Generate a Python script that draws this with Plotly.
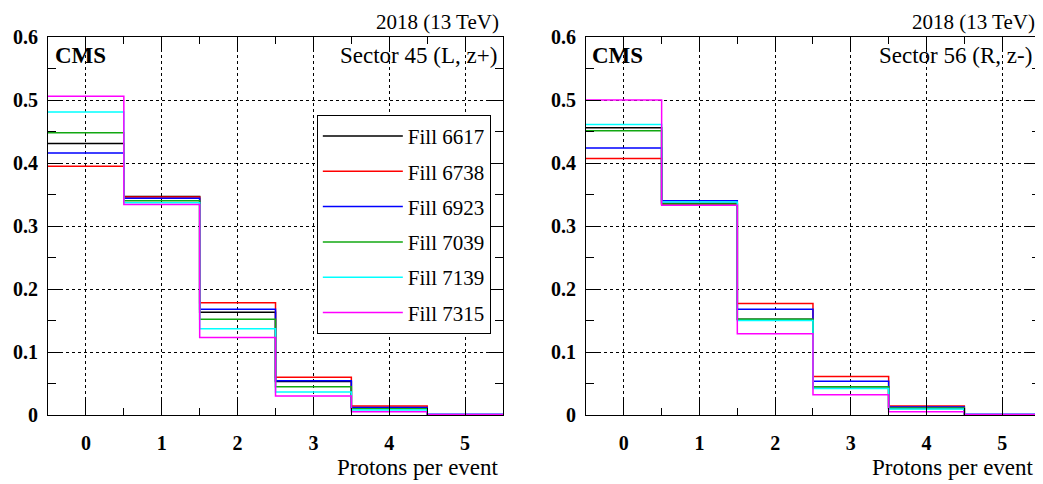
import plotly.graph_objects as go

# ---------------- data ----------------
protons = [0, 1, 2, 3, 4, 5]
fills = ["Fill 6617", "Fill 6738", "Fill 6923", "Fill 7039", "Fill 7139", "Fill 7315"]
colors = ["#000000", "#ff0000", "#0000ff", "#12a812", "#00ffff", "#ff00ff"]

# Sector 45 (L, z+)
s45_6617 = [0.431, 0.347, 0.163, 0.053, 0.012, 0.002]
s45_6738 = [0.395, 0.346, 0.178, 0.060, 0.0143, 0.002]
s45_6923 = [0.416, 0.344, 0.168, 0.0545, 0.012, 0.002]
s45_7039 = [0.448, 0.340, 0.152, 0.045, 0.010, 0.002]
s45_7139 = [0.481, 0.337, 0.137, 0.0365, 0.008, 0.002]
s45_7315 = [0.506, 0.334, 0.123, 0.030, 0.0053, 0.001]

# Sector 56 (R, z-)
s56_6617 = [0.456, 0.336, 0.152, 0.045, 0.0105, 0.002]
s56_6738 = [0.407, 0.334, 0.177, 0.061, 0.0143, 0.002]
s56_6923 = [0.424, 0.340, 0.168, 0.0535, 0.0127, 0.002]
s56_7039 = [0.451, 0.335, 0.152, 0.045, 0.011, 0.002]
s56_7139 = [0.461, 0.338, 0.150, 0.042, 0.0095, 0.002]
s56_7315 = [0.500, 0.333, 0.129, 0.032, 0.0053, 0.001]

sector45 = [s45_6617, s45_6738, s45_6923, s45_7039, s45_7139, s45_7315]
sector56 = [s56_6617, s56_6738, s56_6923, s56_7039, s56_7139, s56_7315]

y_ticks = [0, 0.1, 0.2, 0.3, 0.4, 0.5, 0.6]

FONT = "Liberation Serif"

# bin edges for step histogram
edges = [p - 0.5 for p in protons] + [protons[-1] + 0.5]

fig = go.Figure()

for panel, (data, xa, ya) in enumerate([(sector45, "x", "y"), (sector56, "x2", "y2")]):
    for name, col, vals in zip(fills, colors, data):
        fig.add_trace(go.Scatter(
            x=edges, y=list(vals) + [vals[-1]],
            mode="lines", line=dict(color=col, width=1.5, shape="hv"),
            name=name, legendgroup=name, showlegend=(panel == 0),
            xaxis=xa, yaxis=ya, hoverinfo="x+y+name",
        ))

tickfont = dict(family=FONT, size=20, color="black", weight="bold")

def xaxis_cfg(domain, anchor):
    return dict(
        domain=domain, anchor=anchor, range=[-0.5, 5.5],
        tickmode="array", tickvals=protons, ticktext=[str(p) for p in protons],
        ticks="inside", ticklen=15, tickwidth=1, tickcolor="black",
        minor=dict(tick0=0.5, dtick=1, ticks="inside", ticklen=7, tickcolor="black", showgrid=False),
        showline=True, linecolor="black", linewidth=1, mirror="allticks",
        showgrid=True, gridcolor="black", griddash="dot", gridwidth=1,
        zeroline=False, tickfont=tickfont, ticklabelstandoff=10,
        automargin=False, fixedrange=True,
    )

def yaxis_cfg(anchor):
    return dict(
        domain=[0, 1], anchor=anchor, range=[0, 0.6],
        tickmode="array", tickvals=y_ticks, ticktext=[("%g" % v) for v in y_ticks],
        ticks="inside", ticklen=15, tickwidth=1, tickcolor="black",
        minor=dict(dtick=0.05, ticks="inside", ticklen=8, tickcolor="black", showgrid=False),
        showline=True, linecolor="black", linewidth=1, mirror="allticks",
        showgrid=True, gridcolor="black", griddash="dot", gridwidth=1,
        zeroline=False, tickfont=tickfont, ticklabelstandoff=5,
        automargin=False, fixedrange=True,
    )

# the page body adds an 8px margin at top/left, so the figure is 8px smaller
fig.update_layout(
    width=1035, height=476,
    margin=dict(l=40, r=3, t=29, b=69),
    paper_bgcolor="white", plot_bgcolor="white",
    font=dict(family=FONT, color="black"),
    xaxis=xaxis_cfg([0, 0.4587], "y"),
    yaxis=yaxis_cfg("x"),
    xaxis2=xaxis_cfg([0.5423, 1.0], "y2"),
    yaxis2=yaxis_cfg("x2"),
    legend=dict(
        x=0.271, y=0.794, xanchor="left", yanchor="top",
        bgcolor="white", bordercolor="black", borderwidth=1,
        font=dict(family=FONT, size=21, color="black"),
        tracegroupgap=5, itemwidth=80, entrywidth=176,
    ),
)

annots = [
    # left panel
    dict(text="2018 (13 TeV)", x=0.4567, y=1.076, xanchor="right", yanchor="top", size=21),
    dict(text="<b>CMS</b>", x=0.005, y=0.950, xanchor="left", yanchor="middle", size=23),
    dict(text="Sector 45 (L, z+)", x=0.4546, y=0.950, xanchor="right", yanchor="middle", size=23),
    dict(text="Protons per event", x=0.4566, y=-0.140, xanchor="right", yanchor="middle", size=23),
    # right panel
    dict(text="2018 (13 TeV)", x=0.997, y=1.076, xanchor="right", yanchor="top", size=21),
    dict(text="<b>CMS</b>", x=0.5464, y=0.950, xanchor="left", yanchor="middle", size=23),
    dict(text="Sector 56 (R, z-)", x=0.994, y=0.950, xanchor="right", yanchor="middle", size=23),
    dict(text="Protons per event", x=0.996, y=-0.140, xanchor="right", yanchor="middle", size=23),
]
for a in annots:
    fig.add_annotation(
        text=a["text"], xref="paper", yref="paper", x=a["x"], y=a["y"],
        xanchor=a["xanchor"], yanchor=a["yanchor"], showarrow=False,
        font=dict(family=FONT, size=a["size"], color="black"),
    )

fig.write_html("out.html")
